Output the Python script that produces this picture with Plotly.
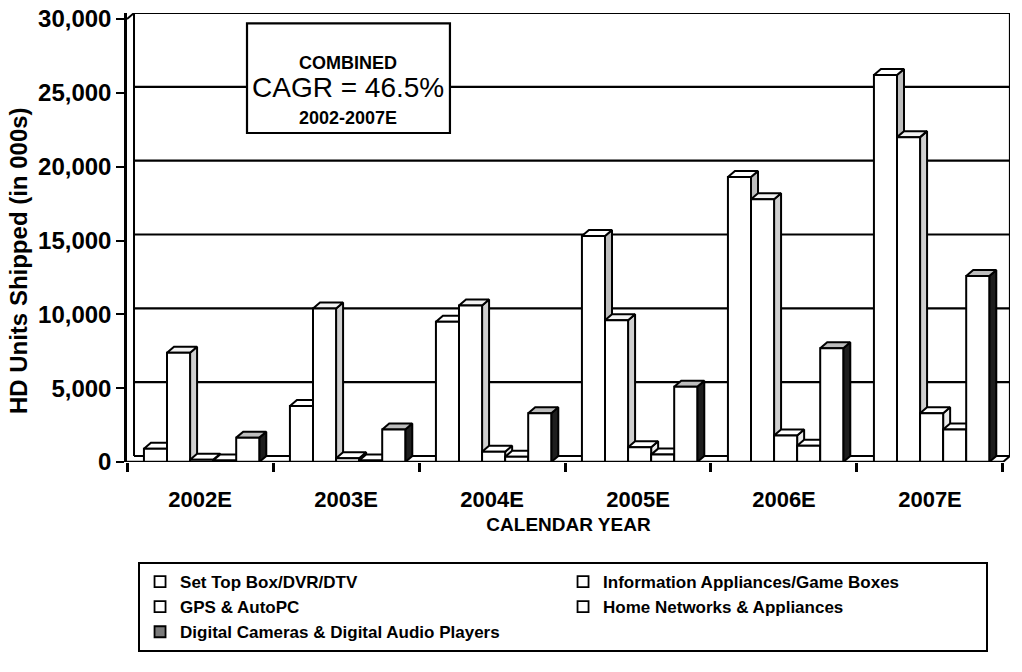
import plotly.graph_objects as go

# ---- data (thousands of HD units shipped) ----
years = ["2002E", "2003E", "2004E", "2005E", "2006E", "2007E"]
series_names = [
    "Set Top Box/DVR/DTV",
    "Information Appliances/Game Boxes",
    "GPS & AutoPC",
    "Home Networks & Appliances",
    "Digital Cameras & Digital Audio Players",
]
set_top_box = [900, 3800, 9500, 15300, 19300, 26200]
info_appliances = [7400, 10400, 10600, 9600, 17800, 22000]
gps_autopc = [150, 250, 700, 1000, 1800, 3300]
home_networks = [100, 100, 350, 500, 1100, 2200]
digital_cameras = [1650, 2200, 3300, 5100, 7700, 12600]
y_ticks = [0, 5000, 10000, 15000, 20000, 25000, 30000]

all_series = [set_top_box, info_appliances, gps_autopc, home_networks, digital_cameras]

# ---- styling / pseudo-3D geometry ----
SANS = "Liberation Sans, Arial, sans-serif"
DX = 0.048          # depth offset along x (category units)
DY = 406            # depth offset along y (value units)
Y_MAX = 30000
Y_TOP = Y_MAX + DY
OFFSET = 0.116      # gap from category boundary to first bar
BAR_W = 0.158       # width of one bar's front face
side_colors = ["#bdbdbd", "#cfcfcf", "#ececec", "#dcdcdc", "#1e1e1e"]
top_colors = ["#ffffff", "#f2f2f2", "#ffffff", "#ffffff", "#bdbdbd"]
legend_colors = ["#ffffff", "#ffffff", "#ffffff", "#ffffff", "#7a7a7a"]

fig = go.Figure()


def add_faces(xs, ys, fill):
    fig.add_trace(go.Scatter(
        x=xs, y=ys, mode="lines", fill="toself", fillcolor=fill,
        line=dict(color="black", width=2), hoverinfo="skip", showlegend=False,
    ))


for k, values in enumerate(all_series):
    fx, fy, sx, sy, tx, ty = [], [], [], [], [], []
    for i, v in enumerate(values):
        x0 = i - 0.5 + OFFSET + k * BAR_W
        x1 = x0 + BAR_W
        fx += [x0, x1, x1, x0, x0, None]
        fy += [0, 0, v, v, 0, None]
        sx += [x1, x1 + DX, x1 + DX, x1, x1, None]
        sy += [0, DY, v + DY, v, 0, None]
        tx += [x0, x1, x1 + DX, x0 + DX, x0, None]
        ty += [v, v, v + DY, v + DY, v, None]
    add_faces(sx, sy, side_colors[k])
    add_faces(tx, ty, top_colors[k])
    add_faces(fx, fy, "#ffffff")

# legend entries
for k, name in enumerate(series_names):
    fig.add_trace(go.Scatter(
        x=[None], y=[None], mode="markers", name=name,
        marker=dict(symbol="square", size=11, color=legend_colors[k],
                    line=dict(color="black", width=1.8)),
    ))

shapes = []
# back-wall gridlines
for v in y_ticks:
    shapes.append(dict(type="line", xref="x", yref="y", x0=-0.5 + DX, x1=5.5 + DX,
                       y0=v + DY, y1=v + DY, line=dict(color="black", width=2.2), layer="below"))
# back wall edges
shapes.append(dict(type="line", xref="x", yref="y", x0=-0.5 + DX, x1=-0.5 + DX,
                   y0=DY, y1=Y_TOP, line=dict(color="black", width=2), layer="below"))
shapes.append(dict(type="line", xref="x", yref="y", x0=5.5 + DX, x1=5.5 + DX,
                   y0=DY, y1=Y_TOP, line=dict(color="black", width=2.2), layer="below"))
shapes.append(dict(type="line", xref="x", yref="y", x0=-0.5, x1=-0.5 + DX,
                   y0=Y_MAX, y1=Y_TOP, line=dict(color="black", width=2), layer="below"))
# floor front edge and right corner
shapes.append(dict(type="line", xref="x", yref="y", x0=-0.5, x1=5.5,
                   y0=0, y1=0, line=dict(color="black", width=2.5), layer="above"))
shapes.append(dict(type="line", xref="x", yref="y", x0=5.5, x1=5.5 + DX,
                   y0=0, y1=DY, line=dict(color="black", width=2), layer="above"))
# CAGR box
BOX_X0, BOX_X1 = 0.322, 1.712
shapes.append(dict(type="rect", xref="x", yref="y", x0=BOX_X0, x1=BOX_X1,
                   y0=22280, y1=29700, fillcolor="white",
                   line=dict(color="black", width=2.2), layer="above"))
fig.update_layout(shapes=shapes)

box_cx = (BOX_X0 + BOX_X1) / 2
fig.add_annotation(x=box_cx, y=27000, xref="x", yref="y", text="COMBINED", showarrow=False,
                   font=dict(family=SANS, size=18, weight="bold", color="black"),
                   xanchor="center", yanchor="middle")
fig.add_annotation(x=box_cx, y=25350, xref="x", yref="y", text="CAGR = 46.5%", showarrow=False,
                   font=dict(family=SANS, size=28, color="black"),
                   xanchor="center", yanchor="middle")
fig.add_annotation(x=box_cx, y=23300, xref="x", yref="y", text="2002-2007E", showarrow=False,
                   font=dict(family=SANS, size=18, weight="bold", color="black"),
                   xanchor="center", yanchor="middle")

# y-axis title
fig.add_annotation(x=-0.122, y=0.448, xref="paper", yref="paper",
                   text="HD Units Shipped (in 000s)", textangle=-90, showarrow=False,
                   font=dict(family=SANS, size=24, weight="bold", color="black"),
                   xanchor="center", yanchor="middle")

fig.update_layout(
    width=1022, height=672,
    margin=dict(l=127, r=12, t=13, b=210, autoexpand=False),
    plot_bgcolor="white", paper_bgcolor="white",
    font=dict(family=SANS, color="black"),
    xaxis=dict(
        range=[-0.5, 5.5 + DX], tickvals=list(range(len(years))), ticktext=years,
        ticks="", showgrid=False, zeroline=False, showline=False,
        tickfont=dict(family=SANS, size=22, weight="bold", color="black"),
        ticklabelstandoff=22,
        minor=dict(tick0=-0.5, dtick=1, ticks="outside", ticklen=9, tickwidth=2.5,
                   tickcolor="black", showgrid=False),
        title=dict(text="CALENDAR YEAR",
                   font=dict(family=SANS, size=19, weight="bold", color="black"),
                   standoff=6),
    ),
    yaxis=dict(
        range=[0, Y_TOP], tickvals=y_ticks, tickformat=",d",
        ticks="outside", ticklen=8, tickwidth=2, tickcolor="black",
        showline=True, linecolor="black", linewidth=2.5,
        showgrid=False, zeroline=False,
        tickfont=dict(family=SANS, size=24, weight="bold", color="black"),
    ),
    legend=dict(
        orientation="h", x=0.0125, y=-0.2227, xanchor="left", yanchor="top",
        entrywidth=378, entrywidthmode="pixels",
        bordercolor="black", borderwidth=2, bgcolor="white",
        font=dict(family=SANS, size=17, weight="bold", color="black"),
        traceorder="normal",
    ),
)

fig.write_html("out.html")
